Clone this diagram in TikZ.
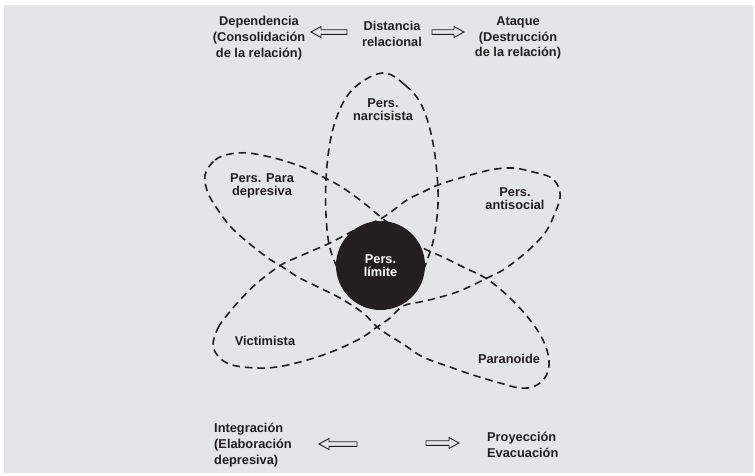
\documentclass[tikz,border=0pt]{standalone}
\usepackage{fontspec}
\setmainfont{Liberation Sans}
\usepackage{tikz}
\usetikzlibrary{positioning,calc}
\definecolor{psBg}{HTML}{E4E5E7}
\definecolor{psInk}{HTML}{231F20}
\tikzset{
  petal/.style={draw=psInk, line width=1.6pt, dash pattern=on 7.5pt off 5pt},
  lbl/.style={text=psInk, align=center, inner sep=0pt, font=\fontsize{12.8}{13}\selectfont\bfseries},
  side/.style={text=psInk, align=center, inner sep=0pt, font=\fontsize{12.8}{15.8}\selectfont\bfseries},
  core/.style={circle, fill=psInk, text=white, align=center, minimum size=89pt, inner sep=0pt, font=\fontsize{12.8}{13}\selectfont\bfseries},
  arrline/.style={draw=psInk, line width=0.9pt, line join=miter},
  pics/hollowarr/.style={code={
    \draw[arrline] (0,0) -- (-10,-5.5) -- (-10,-2.3) -- (-#1,-2.3) -- (-#1,2.3) -- (-10,2.3) -- (-10,5.5) -- cycle;}},
}
\begin{document}
\begin{tikzpicture}[x=1pt, y=-1pt]
  \useasboundingbox (0,0) rectangle (755,475);
  \fill[white] (0,0) rectangle (755,475);
  \fill[psBg] (4,5) rectangle (753,473);

  % petals
  \draw[petal] plot[smooth cycle, tension=0.6] coordinates {
    (382,73) (405,85) (422,106) (433,143) (438,190) (436,225) (429,255)
    (412,290) (382,302) (352,290) (332,255) (326,215) (327,165) (335,122) (352,90)};
  \draw[petal] plot[smooth cycle, tension=0.6] coordinates {
    (205,175) (215,160) (230,154) (248,153) (270,157) (288,162) (305,168) (323,177)
    (340,186) (360,200) (382,218) (402,234) (423,248) (443,257) (463,267) (487,279)
    (510,298) (530,320) (543,340) (549,360) (546,376) (535,386) (520,388) (500,383)
    (473,375) (450,367) (423,357) (403,344) (390,336) (377,327) (363,313) (340,298)
    (320,288) (298,277) (281,266) (268,258) (245,240) (230,226) (218,210) (208,193)};
  \draw[petal] plot[smooth cycle, tension=0.6] coordinates {
    (213,345) (218,328) (228,314) (240,300) (257,283) (281,265) (298,257) (314,250)
    (330,243) (355,230) (382,218) (407,200) (423,192) (438,185) (460,178) (490,170)
    (513,168) (533,172) (550,177) (558,186) (560,198) (555,213) (547,230) (537,242)
    (523,255) (503,270) (487,278) (473,285) (457,292) (437,298) (420,302) (403,306)
    (390,318) (377,327) (363,337) (343,347) (323,355) (300,362) (277,367) (257,368)
    (232,365) (219,357)};

  \node[core] (limite) at (380.5,265.5) {Pers.\\límite};

  \node[lbl] (narc) at (383,110) {Pers.\\narcisista};
  \node[lbl] (paradep) at (262,186) {Pers. Para\\depresiva};
  \node[lbl] (antisoc) at (515,199) {Pers.\\antisocial};
  \node[lbl] (victim) at (265,341) {Victimista};
  \node[lbl] (paran) at (509,359) {Paranoide};

  % top row
  \node[side] (dist) at (392,34) {Distancia\\relacional};
  \node[side] (dep) at (259,38) {Dependencia\\(Consolidación\\de la relación)};
  \node[side] (ataq) at (518,38) {Ataque\\(Destrucción\\de la relación)};
  \pic[xscale=-1] at (311,32) {hollowarr=36};
  \pic at (464,32) {hollowarr=32};

  % bottom row
  \node[side, align=left, anchor=west] (integ) at (214,445) {Integración\\(Elaboración\\depresiva)};
  \node[side, align=left, anchor=west] (proy) at (487,445) {Proyección\\Evacuación};
  \pic[xscale=-1] at (319,444) {hollowarr=38};
  \pic at (459,443) {hollowarr=33};
\end{tikzpicture}
\end{document}
